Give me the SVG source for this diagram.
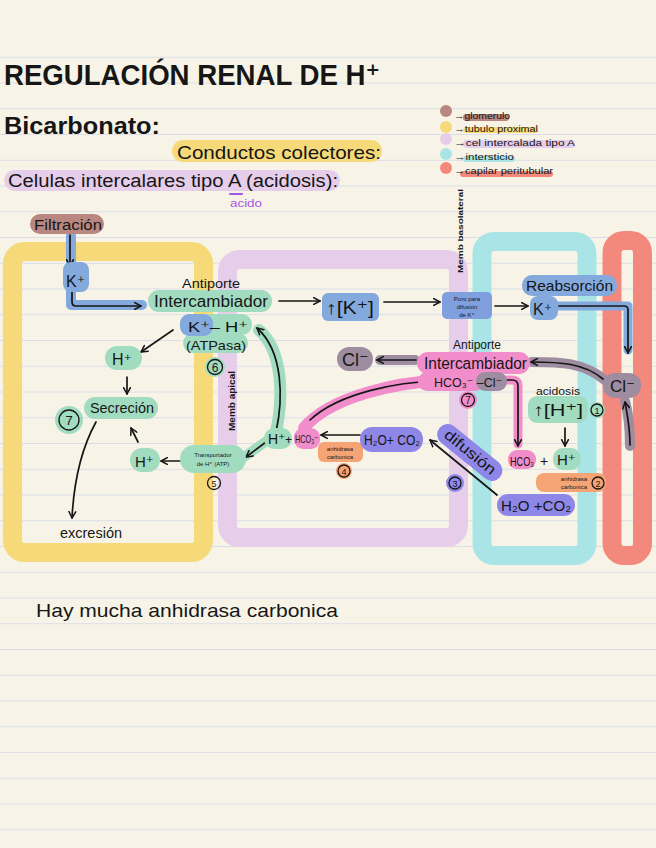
<svg xmlns="http://www.w3.org/2000/svg" width="656" height="848" viewBox="0 0 656 848">
<defs>
<style>
text{font-family:"Liberation Sans","DejaVu Sans",sans-serif;fill:#161616}
.band{fill:none;stroke-width:19}
.g{fill:#a2dcc0}.b{fill:#84aadd}.p{fill:#f28dcb}.m{fill:#9e8ca0}.o{fill:#f5a476}.i{fill:#8e87e8}.br{fill:#b98780}
.hg{stroke:#a2dcc0}.hb{stroke:#84aadd}.hp{stroke:#f28dcb}.hm{stroke:#9e8ca0}
.hl{fill:none;stroke-linecap:round;stroke-linejoin:round}
.ln{fill:none;stroke:#161616;stroke-width:1.7;stroke-linecap:round;stroke-linejoin:round}
.ar{marker-end:url(#ah)}
.ring{fill:none;stroke:#161616;stroke-width:1.3}
.tiny{font-size:6px;text-anchor:middle}
.lg{font-size:9px}
</style>
<marker id="ah" viewBox="0 0 10 10" refX="8.5" refY="5" markerWidth="5" markerHeight="5" orient="auto"><path d="M1,1 L8.5,5 L1,9" fill="none" stroke="#161616" stroke-width="1.8" stroke-linecap="round" stroke-linejoin="round"/></marker>
</defs>

<rect width="656" height="848" fill="#f7f4e7"/>
<path stroke="#dcdde9" stroke-width="1.2" d="M0 57.25H656M0 83H656M0 108.75H656M0 134.5H656M0 160.25H656M0 186H656M0 211.75H656M0 237.5H656M0 263.25H656M0 289H656M0 314.75H656M0 340.5H656M0 366.25H656M0 392H656M0 417.75H656M0 443.5H656M0 469.25H656M0 495H656M0 520.75H656M0 546.5H656M0 572.25H656M0 598H656M0 623.75H656M0 649.5H656M0 675.25H656M0 701H656M0 726.75H656M0 752.5H656M0 778.25H656M0 804H656M0 829.75H656"/>

<!-- regions -->
<g id="region-tubulo"><rect class="band" x="12.5" y="251.5" width="191" height="301" rx="12" stroke="#f6da7a"/></g>
<g id="region-celula"><rect class="band" x="227.5" y="259.5" width="231" height="278" rx="12" stroke="#e6cdea"/></g>
<g id="region-intersticio"><rect class="band" x="482" y="241.5" width="105" height="314" rx="12" stroke="#a9e5e6"/></g>
<g id="region-capilar"><rect class="band" x="612" y="240.5" width="30.5" height="315" rx="12" stroke="#f3897c"/></g>

<!-- headings -->
<g id="titulo">
<text x="4" y="85" font-size="29" font-weight="bold" textLength="376" lengthAdjust="spacingAndGlyphs">REGULACIÓN RENAL DE H⁺</text>
</g>
<g id="bicarbonato"><text x="4" y="134" font-size="24" font-weight="bold" textLength="156" lengthAdjust="spacingAndGlyphs">Bicarbonato:</text></g>
<g id="conductos">
<rect x="172" y="140" width="210" height="22" rx="11" fill="#f6da7a"/>
<text x="177" y="159" font-size="19" textLength="204" lengthAdjust="spacingAndGlyphs">Conductos colectores:</text>
</g>
<g id="celulas">
<rect x="4" y="170" width="336" height="21" rx="10.5" fill="#e6cdea"/>
<text x="8" y="187" font-size="18" textLength="330" lengthAdjust="spacingAndGlyphs">Celulas intercalares tipo A (acidosis):</text>
<path d="M230 194H242" stroke="#a855e8" stroke-width="2.2" stroke-linecap="round"/>
<text x="230" y="207" font-size="10" style="fill:#a855e8" textLength="32" lengthAdjust="spacingAndGlyphs">acido</text>
</g>

<!-- legend -->
<g id="leyenda">
<circle cx="446" cy="111" r="6" fill="#b98780"/>
<circle cx="446" cy="127" r="6" fill="#f6da7a"/>
<circle cx="446" cy="139" r="6" fill="#e6cdea"/>
<circle cx="446" cy="154" r="6" fill="#a9e5e6"/>
<circle cx="446" cy="168" r="6" fill="#f3897c"/>
<rect x="463" y="114" width="46" height="7" rx="3" fill="#b98780"/>
<rect x="463" y="127" width="75" height="6" rx="3" fill="#f6da7a"/>
<rect x="463" y="140" width="112" height="8" rx="4" fill="#e6cdea"/>
<rect x="463" y="156" width="52" height="6" rx="3" fill="#a9e5e6"/>
<rect x="460" y="171" width="93" height="6" rx="3" fill="#f3897c"/>
<text class="lg" x="454" y="119" textLength="56" lengthAdjust="spacingAndGlyphs">→glomerulo</text>
<text class="lg" x="454" y="132" textLength="84" lengthAdjust="spacingAndGlyphs">→tubulo proximal</text>
<text class="lg" x="454" y="146" textLength="121" lengthAdjust="spacingAndGlyphs">→cel intercalada tipo A</text>
<text class="lg" x="454" y="160" textLength="60" lengthAdjust="spacingAndGlyphs">→intersticio</text>
<text class="lg" x="454" y="174" textLength="99" lengthAdjust="spacingAndGlyphs">→capilar peritubular</text>
</g>

<!-- connectors -->
<g id="connectors">
<path class="hl hb" stroke-width="10" d="M71 236V305H142"/>
<path class="hl hg" stroke-width="12" d="M276 432C283 400 284 352 259 330"/>
<path class="hl hg" stroke-width="10" d="M268 440L244 457"/>
<path class="hl hp" stroke-width="12" d="M304 428C330 396 400 382 438 381"/>
<path class="hl hb" stroke-width="9" d="M558 306H628V350"/>
<path class="hl hm" stroke-width="10" d="M380 360H415"/>
<path class="hl hm" stroke-width="10" d="M606 381C584 362 560 362 532 362"/>
<path class="hl hm" stroke-width="10" d="M630 446C630 428 628 412 625 401"/>
<path class="hl hp" stroke-width="9" d="M500 380H512Q518 380 518 386V444"/>

<path class="ln ar" d="M70 235V266"/>
<path class="ln ar" d="M72 288V302Q72 306 76 306H141"/>
<path class="ln ar" d="M279 301H320"/>
<path class="ln ar" d="M384 302H440"/>
<path class="ln ar" d="M495 306H528"/>
<path class="ln ar" d="M559 306H624Q628 306 628 310V353"/>
<path class="ln ar" d="M173 330L141 352"/>
<path class="ln ar" d="M127 377V394"/>
<path class="ln ar" d="M96 422Q75 460 72 518"/>
<path class="ln ar" d="M138 442L131 428"/>
<path class="ln ar" d="M181 461H161"/>
<path class="ln ar" d="M276 432C283 400 284 352 257 328"/>
<path class="ln ar" d="M266 442L246 457"/>
<path class="ln ar" d="M360 435H321"/>
<path class="ln ar" d="M310 420C340 392 400 382 437 381"/>
<path class="ln ar" d="M497 495L430 440"/>
<path class="ln ar" d="M416 360H377"/>
<path class="ln ar" d="M603 379C584 363 560 362 531 362"/>
<path class="ln ar" d="M630 445C630 427 627 413 625 402"/>
<path class="ln ar" d="M500 380H512Q518 380 518 386V446"/>
<path class="ln ar" d="M565 428V446"/>
<path class="ln ar" d="M543 475V490"/>
</g>

<!-- nodes -->
<g id="filtracion">
<rect class="br" x="30" y="214" width="74" height="20" rx="10"/>
<text x="34" y="230" font-size="14" textLength="68" lengthAdjust="spacingAndGlyphs">Filtración</text>
</g>
<g id="k-tubulo">
<rect class="b" x="63" y="262" width="26" height="30" rx="8"/>
<text x="66" y="287" font-size="16">K⁺</text>
</g>
<g id="intercambiador-k">
<rect class="g" x="148" y="290" width="124" height="22" rx="11"/>
<text x="182" y="288" font-size="13" textLength="58" lengthAdjust="spacingAndGlyphs">Antiporte</text>
<text x="154" y="307" font-size="16" textLength="114" lengthAdjust="spacingAndGlyphs">Intercambiador</text>
</g>
<g id="atpasa">
<rect class="g" x="196" y="314" width="56" height="21" rx="10"/>
<rect class="g" x="183" y="333" width="65" height="20" rx="10"/>
<rect class="b" x="180" y="314" width="33" height="22" rx="9"/>
<text x="188" y="332" font-size="15" textLength="60" lengthAdjust="spacingAndGlyphs">K⁺– H⁺</text>
<text x="186" y="350" font-size="13" textLength="60" lengthAdjust="spacingAndGlyphs">(ATPasa)</text>
<circle class="g" cx="215" cy="367" r="10"/>
<circle class="ring" cx="215" cy="367" r="7.5"/>
<text x="215" y="371.5" font-size="12" text-anchor="middle">6</text>
</g>
<g id="h-tubulo-1">
<rect class="g" x="105" y="346" width="37" height="24" rx="12"/>
<text x="112" y="365" font-size="16">H⁺</text>
</g>
<g id="secrecion">
<rect class="g" x="84" y="397" width="74" height="22" rx="11"/>
<text x="90" y="413" font-size="15" textLength="64" lengthAdjust="spacingAndGlyphs">Secreción</text>
<circle class="g" cx="69" cy="420" r="14"/>
<circle class="ring" cx="69" cy="420" r="10"/>
<text x="69" y="425" font-size="13" text-anchor="middle">7</text>
</g>
<g id="h-tubulo-2">
<rect class="g" x="130" y="448" width="30" height="24" rx="12"/>
<text x="135" y="467" font-size="15">H⁺</text>
</g>
<g id="transportador">
<rect class="g" x="180" y="445" width="66" height="28" rx="14"/>
<text class="tiny" x="213" y="457">Transportador</text>
<text class="tiny" x="213" y="466">de H⁺ (ATP)</text>
<circle class="ring" cx="214" cy="483" r="6.5"/>
<text x="214" y="486.5" font-size="9" text-anchor="middle">5</text>
</g>
<g id="excrecion"><text x="60" y="538" font-size="14" textLength="62" lengthAdjust="spacingAndGlyphs">excresión</text></g>
<g id="memb-apical"><text transform="translate(235 431) rotate(-90)" font-size="9" font-weight="bold" textLength="60" lengthAdjust="spacingAndGlyphs">Memb apical</text></g>
<g id="memb-basolateral"><text transform="translate(463 273) rotate(-90)" font-size="8" font-weight="bold" textLength="84" lengthAdjust="spacingAndGlyphs">Memb basolateral</text></g>
<g id="k-celula">
<rect class="b" x="322" y="293" width="57" height="28" rx="6"/>
<text x="326" y="314" font-size="18" textLength="48" lengthAdjust="spacingAndGlyphs">↑[K⁺]</text>
</g>
<g id="poro">
<rect x="442" y="292" width="50" height="27" rx="5" fill="#7f9fdf"/>
<text class="tiny" x="467" y="301">Poro para</text>
<text class="tiny" x="467" y="309">difusión</text>
<text class="tiny" x="467" y="317">de K⁺</text>
</g>
<g id="reabsorcion">
<rect class="b" x="522" y="275" width="95" height="21" rx="10"/>
<text x="526" y="291" font-size="15" textLength="87" lengthAdjust="spacingAndGlyphs">Reabsorción</text>
</g>
<g id="k-intersticio">
<rect class="b" x="530" y="296" width="28" height="24" rx="8"/>
<text x="533" y="315" font-size="16">K⁺</text>
</g>
<g id="h-hco3-celula">
<rect class="g" x="264" y="428" width="28" height="21" rx="10"/>
<rect class="p" x="294" y="428" width="26" height="21" rx="9"/>
<text x="268" y="444" font-size="14">H⁺</text>
<text x="285" y="444" font-size="12">+</text>
<text x="295" y="443" font-size="11" textLength="23" lengthAdjust="spacingAndGlyphs">HCO₃⁻</text>
</g>
<g id="anhidrasa-1">
<rect class="o" x="318" y="442" width="45" height="20" rx="6"/>
<text class="tiny" x="340" y="451">anhidrasa</text>
<text class="tiny" x="340" y="459">carbonica</text>
<circle class="o" cx="344" cy="471" r="8"/>
<circle class="ring" cx="344" cy="471" r="6"/>
<text x="344" y="474.5" font-size="9" text-anchor="middle">4</text>
</g>
<g id="h2o-co2-celula">
<rect class="i" x="360" y="427" width="63" height="25" rx="12"/>
<text x="364" y="445" font-size="14" textLength="56" lengthAdjust="spacingAndGlyphs">H₂O+ CO₂</text>
</g>
<g id="difusion">
<g transform="translate(467 456) rotate(39)">
<rect class="i" x="-39" y="-15" width="78" height="21" rx="10.5"/>
<text x="0" y="0" font-size="15" text-anchor="middle" textLength="62" lengthAdjust="spacingAndGlyphs">difusión</text>
</g>
<circle class="i" cx="455" cy="483" r="9"/>
<circle class="ring" cx="455" cy="483" r="6"/>
<text x="455" y="486.5" font-size="9" text-anchor="middle">3</text>
</g>
<g id="h2o-co2-intersticio">
<rect class="i" x="497" y="494" width="78" height="22" rx="11"/>
<text x="501" y="511" font-size="15" textLength="70" lengthAdjust="spacingAndGlyphs">H₂O +CO₂</text>
</g>
<g id="cl-celula">
<rect class="m" x="337" y="347" width="36" height="24" rx="12"/>
<text x="342" y="366" font-size="18">Cl⁻</text>
</g>
<g id="intercambiador-cl">
<rect class="p" x="417" y="352" width="113" height="22" rx="11"/>
<rect class="p" x="418" y="372" width="66" height="19" rx="9"/>
<rect class="m" x="476" y="372" width="31" height="19" rx="9"/>
<text x="453" y="349" font-size="12" textLength="48" lengthAdjust="spacingAndGlyphs">Antiporte</text>
<text x="424" y="369" font-size="16" textLength="103" lengthAdjust="spacingAndGlyphs">Intercambiador</text>
<text x="434" y="387" font-size="13" textLength="68" lengthAdjust="spacingAndGlyphs">HCO₃⁻ –Cl⁻</text>
<circle class="p" cx="468" cy="400" r="9"/>
<circle class="ring" cx="468" cy="400" r="6.5"/>
<text x="468" y="404" font-size="10" text-anchor="middle">7</text>
</g>
<g id="cl-capilar">
<rect class="m" x="603" y="373" width="38" height="25" rx="12"/>
<text x="610" y="392" font-size="17">Cl⁻</text>
</g>
<g id="acidosis-h">
<text x="536" y="395" font-size="11" textLength="44" lengthAdjust="spacingAndGlyphs">acidosis</text>
<rect class="g" x="528" y="396" width="60" height="27" rx="9"/>
<text x="533" y="416" font-size="17" textLength="50" lengthAdjust="spacingAndGlyphs">↑[H⁺]</text>
<circle class="g" cx="597" cy="410" r="8"/>
<circle class="ring" cx="597" cy="410" r="6"/>
<text x="597" y="413.5" font-size="9" text-anchor="middle">1</text>
</g>
<g id="hco3-h-intersticio">
<rect class="p" x="508" y="450" width="28" height="19" rx="9"/>
<rect class="g" x="553" y="448" width="28" height="22" rx="10"/>
<text x="510" y="466" font-size="12" textLength="24" lengthAdjust="spacingAndGlyphs">HCO₃</text>
<text x="540" y="466" font-size="14">+</text>
<text x="557" y="465" font-size="15">H⁺</text>
</g>
<g id="anhidrasa-2">
<rect class="o" x="536" y="473" width="70" height="19" rx="8"/>
<text class="tiny" x="574" y="481">anhidrasa</text>
<text class="tiny" x="574" y="489">carbonica</text>
<circle class="o" cx="598" cy="483" r="8"/>
<circle class="ring" cx="598" cy="483" r="6"/>
<text x="598" y="486.5" font-size="9" text-anchor="middle">2</text>
</g>
<g id="nota"><text x="36" y="617" font-size="19" textLength="302" lengthAdjust="spacingAndGlyphs">Hay mucha anhidrasa carbonica</text></g>
</svg>
